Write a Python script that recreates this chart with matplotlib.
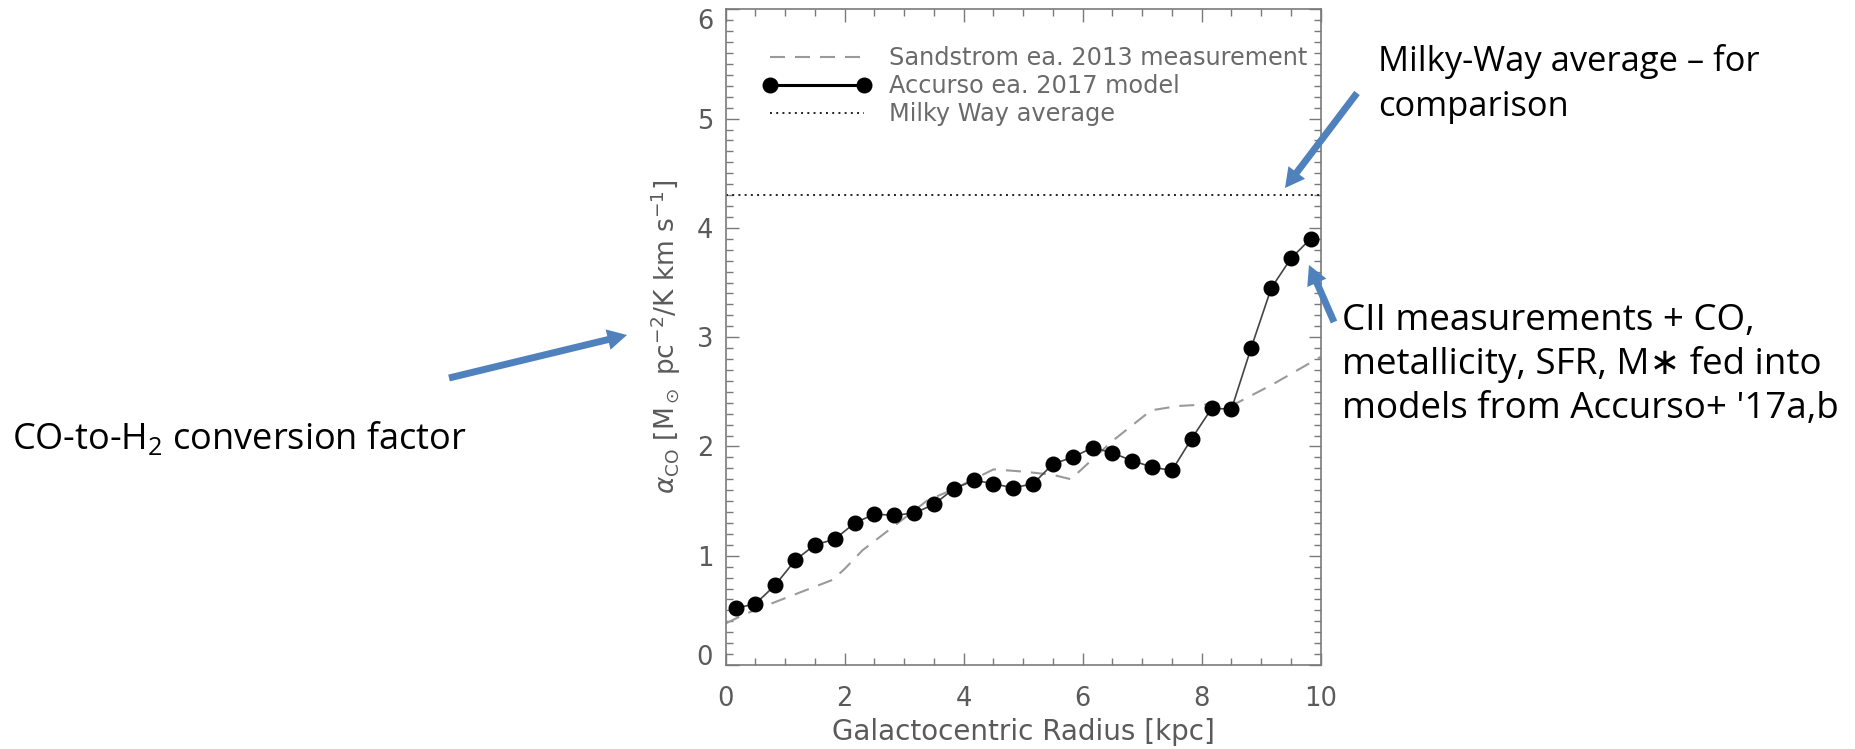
import matplotlib
matplotlib.use("Agg")
import matplotlib.pyplot as plt
from matplotlib.lines import Line2D
from matplotlib.patches import FancyArrowPatch
from matplotlib.ticker import MultipleLocator

# ---------------- data ----------------
radius_model = [0.17, 0.50, 0.83, 1.17, 1.50, 1.83, 2.17, 2.50, 2.83, 3.17,
                3.50, 3.83, 4.17, 4.50, 4.83, 5.17, 5.50, 5.83, 6.17, 6.50,
                6.83, 7.17, 7.50, 7.83, 8.17, 8.50, 8.83, 9.17, 9.50, 9.83]
alpha_model = [0.52, 0.56, 0.73, 0.96, 1.10, 1.15, 1.30, 1.38, 1.37, 1.39,
               1.47, 1.61, 1.69, 1.66, 1.62, 1.66, 1.84, 1.90, 1.99, 1.94,
               1.87, 1.81, 1.78, 2.07, 2.35, 2.34, 2.90, 3.45, 3.72, 3.90]
radius_sandstrom = [0.0, 0.3, 0.85, 1.8, 2.0, 2.3, 3.4, 3.8, 4.5, 5.0, 5.5,
                    5.8, 6.5, 7.15, 7.6, 8.6, 9.2, 10.0]
alpha_sandstrom = [0.38, 0.46, 0.58, 0.78, 0.88, 1.05, 1.51, 1.60, 1.79, 1.77,
                   1.74, 1.70, 2.05, 2.33, 2.37, 2.40, 2.57, 2.82]
alpha_milky_way = 4.3

x_ticks = [0, 2, 4, 6, 8, 10]
y_ticks = [0, 1, 2, 3, 4, 5, 6]
legend_labels = ["Sandstrom ea. 2013 measurement",
                 "Accurso ea. 2017 model",
                 "Milky Way average"]
x_label = "Galactocentric Radius [kpc]"
y_label = r"$\alpha_{\rm CO}$ [M$_\odot$ pc$^{-2}$/K km s$^{-1}$]"
note_mw = ["Milky-Way average \u2013 for", "comparison"]
note_cii = ["CII measurements + CO,",
            "metallicity, SFR, M\u2217 fed into",
            "models from Accurso+ '17a,b"]
note_co = r"CO-to-H$_\mathrm{2}$ conversion factor"

# ---------------- style ----------------
plt.rcParams["font.family"] = ["DejaVu Sans"]
plt.rcParams["mathtext.fontset"] = "custom"
plt.rcParams["mathtext.rm"] = "Open Sans"
plt.rcParams["mathtext.it"] = "Open Sans:italic"
plt.rcParams["mathtext.bf"] = "Open Sans:bold"

W, H = 1856, 749
fig = plt.figure(figsize=(W / 100, H / 100), dpi=100)
fig.patch.set_facecolor("white")

ax_l, ax_r, ax_t, ax_b = 725.7, 1320.7, 9.3, 665.0
ax = fig.add_axes([ax_l / W, 1 - ax_b / H, (ax_r - ax_l) / W, (ax_b - ax_t) / H])

grey_axis = "#7a7a7a"
grey_text = "#5a5a5a"

ax.plot(radius_sandstrom, alpha_sandstrom, color="#9a9a9a", lw=1.5,
        ls=(0, (7.2, 4.8)), zorder=2)
ax.plot(radius_model, alpha_model, color="#444444", lw=1.2, marker="o",
        ms=10.5, mfc="black", mec="black", zorder=3)
ax.axhline(alpha_milky_way, color="#222222", lw=1.4, ls=(0, (1, 2.2)), zorder=2)

ax.set_xlim(0, 10)
ax.set_ylim(0, 6)
ax.set_xticks(x_ticks)
ax.set_yticks(y_ticks)
ax.xaxis.set_minor_locator(MultipleLocator(0.5))
ax.yaxis.set_minor_locator(MultipleLocator(0.1))
ax.tick_params(which="both", direction="in", top=True, right=True,
               color=grey_axis, width=1.0, labelcolor=grey_text, labelsize=18.5)
ax.tick_params(which="major", length=9)
ax.tick_params(which="minor", length=5)
ax.tick_params(axis="x", which="major", pad=15)
ax.tick_params(axis="y", which="major", pad=9)
for s in ax.spines.values():
    s.set_color(grey_axis)
    s.set_linewidth(1.2)

# IDL-style end labels: "0" raised, "6" lowered
yt = ax.yaxis.get_major_ticks()
yt[0].label1.set_va("baseline")
yt[-1].label1.set_va("top")

ax.set_xlabel(x_label, fontsize=20, color=grey_text)
ax.xaxis.set_label_coords(0.5, (ax_b - 718) / (ax_b - ax_t))
ax.set_ylabel(y_label, fontsize=19, color=grey_text, math_fontfamily="dejavusans")
ax.yaxis.set_label_coords((683 - ax_l) / (ax_r - ax_l), 0.5)

h1 = Line2D([], [], color="#9a9a9a", lw=1.5, ls=(0, (7.2, 4.8)))
h2 = Line2D([], [], color="black", lw=2.2, marker="o", ms=10.5)
h3 = Line2D([], [], color="#222222", lw=1.4, ls=(0, (1, 2.2)))
ax.legend([h1, h2, h3], legend_labels, loc="upper left",
          bbox_to_anchor=((763 - ax_l) / (ax_r - ax_l), (ax_b - 46) / (ax_b - ax_t)),
          frameon=False, fontsize=17.3, handlelength=4.5, handletextpad=0.75,
          labelspacing=0.17, borderpad=0, borderaxespad=0, numpoints=2,
          labelcolor="#6a6a6a")

# ---------------- annotations (figure pixels, y from top) ----------------
def ftext(x, y, s, size, **kw):
    fig.text(x / W, 1 - y / H, s, ha="left", va="baseline", fontsize=size,
             family=["Open Sans", "DejaVu Sans"], color="black", **kw)

for i, line in enumerate(note_mw):
    ftext(1378, 71 + 45 * i, line, 24.8)
for i, line in enumerate(note_cii):
    ftext(1342, 330 + 44 * i, line, 26.5)
ftext(12, 449, note_co, 26, math_fontfamily="custom")

arrow_color = "#4f81bd"
for tail, tip in [((1357, 93), (1285, 188)),
                  ((1334, 322), (1309, 265)),
                  ((449, 378), (627, 335))]:
    arr = FancyArrowPatch((tail[0] / W, 1 - tail[1] / H), (tip[0] / W, 1 - tip[1] / H),
                          transform=fig.transFigure,
                          arrowstyle="simple,head_length=1.4,head_width=1.5,tail_width=0.5",
                          mutation_scale=10, color=arrow_color, lw=0,
                          shrinkA=0, shrinkB=0)
    fig.add_artist(arr)

fig.savefig("out.png", dpi=100, facecolor="white")
